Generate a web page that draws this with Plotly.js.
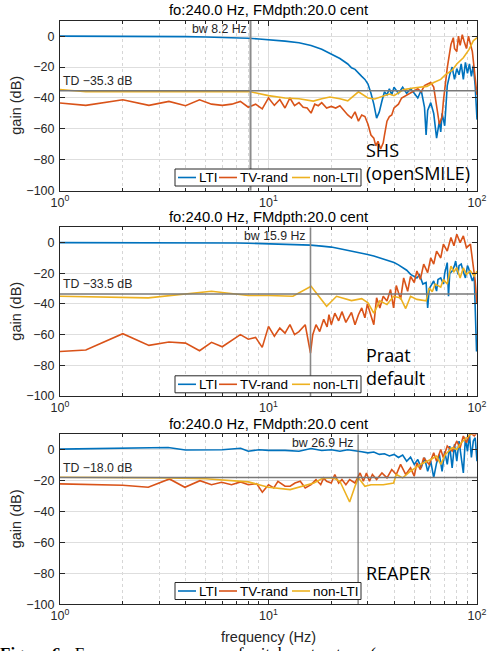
<!DOCTYPE html>
<html><head><meta charset="utf-8">
<script src="https://cdn.plot.ly/plotly-3.0.1.min.js"></script>
<style>html,body{margin:0;padding:0;background:#fff;} #chart{width:488px;height:651px;}</style>
</head><body><div id="chart"></div>
<script>
// ---------- DATA ----------
const seriesNames = ['LTI', 'TV-rand', 'non-LTI'];
const panelNames = ['SHS<br>(openSMILE)', 'Praat<br>default', 'REAPER'];
const panelTitle = 'fo:240.0 Hz, FMdpth:20.0 cent';
const bw_hz = [8.2, 15.9, 26.9];
const td_db = [-35.3, -33.5, -18.0];
const xTickVals = [1, 10, 100];
const xTickText = ['10<sup>0</sup>', '10<sup>1</sup>', '10<sup>2</sup>'];
const xMinorVals = [2,3,4,5,6,7,8,9,20,30,40,50,60,70,80,90];
const yTickVals = [-100, -80, -60, -40, -20, 0];

// Panel 1 (SHS openSMILE)
const p1_lti_f = [1,2,3,4,5,6,7,8,9,10,12,14,16,18,20,22,24,25,26,27,28,29,30,31,32,33,34,35,36,37,38,39,40,42,44,46,48,50,52,54,56,57,58,60,62,64,66,67,68,70,72,74,76,78,80,82,84,86,88,90,92,94,96,98,100];
const p1_lti_g = [0,0,-0.2,-0.3,-0.5,-0.7,-1.0,-1.4,-1.8,-2.2,-3.2,-4.3,-6,-8.5,-11.5,-14.5,-18,-20.5,-21.5,-23.5,-26,-28,-31,-37,-44,-53,-49,-42,-36,-38,-34,-38,-33,-37,-33,-37,-34,-37,-40,-35,-46,-64,-48,-43,-50,-66,-55,-62,-50,-58,-32,-25,-20,-28,-21,-25,-18,-28,-17,-24,-18,-26,-19,-32,-54];
const p1_tv_f = [1,1.33,2,2.67,3.33,4,4.67,5.33,6,6.67,7.33,8,8.67,9.33,10,10.67,11.33,12,12.67,13.33,14,14.67,15.33,16,16.67,17.33,18,19,20,21,22,23,24,25,26,27,28,29,30,31,32,32.7,33.5,34.5,35.5,36,37,38,39,40,42,43.5,46,48,50,52,54,56,58,60,62,64,66,68,69,72,75,77,78,80,81.5,83,85,87,89,91,93,95,98,100];
const p1_tv_g = [-43.3,-44.8,-41.2,-44.8,-42.2,-45,-41.2,-44,-44.8,-44,-42.2,-46,-44,-47,-40,-44.8,-41,-46.5,-40,-45,-43,-46,-46.5,-49.8,-44,-45,-43,-46.5,-45.5,-46.5,-45,-48,-51,-53,-49,-55,-51,-52,-57,-64,-66,-71,-68,-73,-69,-64,-55,-52,-51,-46.5,-44,-40,-38,-37,-35,-34,-36,-32,-31,-30,-33,-45,-57,-52,-42,-20.5,-5.4,-1,-8,-10,0,-6,1,-4,-8,0,-5,-10,-27,-38];
const p1_nl_f = [1,1.33,2,3,4,5,6,7,8.2,10,12,14,16.4,18,19.7,22,24,27,30,32.3,35.5,38,40,44.5,49.5,57.5,62,67,70.5,76,80,86,91.5,96,100];
const p1_nl_g = [-34.5,-36,-36,-36,-36,-36,-36,-36,-36,-38.5,-40,-40.5,-42,-40.5,-39.4,-40.5,-41.8,-36,-40,-40.7,-39,-37.5,-38.5,-34.6,-33.5,-32.5,-30,-28,-25,-22,-18,-14,-8.7,-3,-1];

// Panel 2 (Praat default)
const p2_lti_f = [1,2,3,4,5,6,7,8,10,12,14,15.9,18,20,22,24.5,27,29.5,32,34,37,40,42,44.5,46,48,50,51.5,53,55,57,58,59,60,62,64,65,67,69,70,72,73,74,76,78,79,81,82,84,86,88,90,91,93,95,97,98,99.5,100];
const p2_lti_g = [0,0,-0.1,0,0.2,0,-0.2,-0.4,-0.7,-1,-1.3,-1.6,-2.3,-2.9,-4,-5.5,-6.5,-7.6,-8.7,-9.8,-11.5,-13,-14.5,-16.4,-18,-20.7,-22,-23,-21,-27,-26,-42.6,-30,-28,-25,-31.6,-24,-23,-27,-20,-13,-35,-20,-18.5,-15,-12,-20.7,-15,-14,-19,-23,-15,-16.4,-21,-25,-22,-42,-71,-65];
const p2_tv_f = [1,1.33,2,2.67,3.33,4,4.67,5.33,6,6.67,7.33,8,8.67,9.33,10,10.67,11.33,12,12.67,13.33,14,15,15.9,16.3,16.9,17.6,18.4,19.1,19.5,20,20.8,21.7,22.5,23.5,25,26,27,28,29,29.8,31,32,33,34.2,35.5,37,38.5,39.8,41,43,44.5,46.5,48,50,51.5,53.5,55.5,58,60,62,64,67,69,72,75,77.5,80,83,86,89,93,95,98,100];
const p2_tv_g = [-71,-70,-59.4,-67,-64.8,-65.5,-70.5,-65,-67.9,-64,-60,-63,-61.8,-68.3,-54.6,-61,-55.7,-59,-53.5,-60,-58,-53.5,-72,-60,-53.5,-58,-50,-55,-47,-53.5,-46,-51,-45,-52,-45.5,-53.5,-47,-42.6,-49,-40,-47,-53.5,-36,-42.6,-35,-38,-30.6,-42.6,-28,-37,-23,-31.7,-22,-26,-18.5,-24,-14,-19.6,-10,-14,-5.5,-10,-1,-5.5,3.3,-2,5.5,0,4.4,-3.3,-1,-10,-25,-40];
const p2_nl_f = [1,2.65,5.33,8,10,13.1,16,19,21.2,25,28,30,32,34.2,37,39.8,43,45.5,48,51.5,57,59,61,63,67,69,72,75,77.5,80,83,86,89,93,97,100];
const p2_nl_g = [-35,-36,-31.7,-34.5,-34.5,-35,-28.4,-41.5,-35,-37.8,-36.5,-39.3,-46,-38,-40.4,-35,-36,-43,-35,-37,-38,-29.5,-32,-27,-29,-24,-27,-15.3,-19,-16.4,-23,-16.4,-20.7,-18.5,-21.8,-18.5];

// Panel 3 (REAPER)
const p3_lti_f = [1,2,3.3,4,5,6,7.35,8,9,10,12,14,16,18,20,22,24,26,28,30,32,34,36,38,40,42,44,46,48,50,52,54,56,58,60,62,64,66,68,70,72,74,76,78,80,82,84,86,88,90,92,94,96,98,100];
const p3_lti_g = [0.4,1,1.5,-0.2,0,0,1,-1,0,-0.4,-0.4,-1,0.8,-0.5,0,-1,0,-0.5,-1.3,-2,-1.5,-3,-2.6,-4,-3,-5,-3.5,-7.4,-4.8,-9.5,-6.3,-11.7,-5.2,-14,-7.4,-18,-8.5,-3,-14,-1,-9.5,2.4,-11.7,3.5,-7.4,5.6,-4,-15,7.8,-1,10,-5,5.6,7.8,-7.4];
const p3_tv_f = [1,1.33,2,2.65,3.35,3.97,4.69,5.33,5.96,6.65,7.35,8,8.77,9.34,10,10.6,11.1,12,12.7,13.4,14.2,15,16,16.9,17.8,18.4,19,20,20.8,21.7,22.5,23.5,24.5,26,27.5,28.5,29.5,30.5,31.5,33,35,37,39,41,43,45.5,48,50,51.5,53.5,55.5,59,62,64,67,69,72,76,80,83,86,89,93,97,100];
const p3_tv_g = [-22.1,-22.6,-23,-24.3,-18.9,-24.3,-20,-22.6,-21,-22.6,-20.8,-22.6,-21.9,-27.5,-22.6,-24.7,-20.4,-23.6,-23.6,-21.5,-20.4,-24.7,-22.6,-19.3,-22.6,-18.2,-20.4,-21.5,-16,-21.5,-19.3,-22.6,-19.3,-21.5,-15,-20.4,-15,-20.4,-16,-19.3,-15,-18.2,-12.8,-16,-9.5,-16,-11.7,-17.1,-8.5,-12.8,-5.2,-9.5,-2,-7.4,0.2,-5.2,2.4,-0.9,5.6,1.3,8.9,4.6,11,9,11];
const p3_nl_f = [1,2,3.3,5,6,7,8,9,10,12.7,14.7,16.5,18.4,20.4,22,24.5,26,27,29,31,35.5,39.8,41,44,48,53.5,60,64,67,70.5,76,80,84,89,93,100];
const p3_nl_g = [-17.8,-17.8,-18.2,-18.8,-19.5,-20.4,-20.8,-22.6,-24.3,-25.8,-23.6,-21.5,-18.2,-18.2,-20.4,-33.8,-23.6,-18.2,-23.6,-22.6,-22.6,-21.5,-16,-18.2,-13.9,-9.5,-6.3,-4.1,-9.5,-3,1.3,0.2,4.6,7.8,10,12];

// ---------- BUILD ----------
const W = 488, H = 651;
const FONT = 'Liberation Sans, Arial, sans-serif';
const TXT = '#262626';
const colors = ['#0072BD', '#D95319', '#EDB120'];
const px = v => v / W;
const py = v => 1 - v / H;

const panels = [
  {lti:[p1_lti_f,p1_lti_g], tv:[p1_tv_f,p1_tv_g], nl:[p1_nl_f,p1_nl_g], top:20.7, bot:190.7, legY:177.5, noteY:145},
  {lti:[p2_lti_f,p2_lti_g], tv:[p2_tv_f,p2_tv_g], nl:[p2_nl_f,p2_nl_g], top:227.3, bot:396.0, legY:384.3, noteY:350},
  {lti:[p3_lti_f,p3_lti_g], tv:[p3_tv_f,p3_tv_g], nl:[p3_nl_f,p3_nl_g], top:434.3, bot:604.3, legY:591.0, noteY:568}
];
const plotL = 60, plotR = 477;
const bwWidth = [2, 1.6, 1.1];
const bwColor = ['rgb(140,140,140)', 'rgb(135,135,135)', 'rgb(100,100,100)'];

const traces = [];
const layout = {
  width: W, height: H, margin: {l:0, r:0, t:0, b:0},
  paper_bgcolor: '#fff', plot_bgcolor: '#fff', showlegend: false,
  font: {family: FONT, color: TXT, size: 12},
  annotations: [], shapes: []
};

panels.forEach((p, i) => {
  const n = i === 0 ? '' : String(i + 1);
  const xa = 'x' + n, ya = 'y' + n;
  const series = [p.lti, p.tv, p.nl];
  series.forEach((s, k) => {
    traces.push({x: s[0], y: s[1], xaxis: xa, yaxis: ya, type: 'scatter', mode: 'lines',
      name: seriesNames[k], line: {color: colors[k], width: 1.6}, hoverinfo: 'skip'});
  });
  // TD and bw reference lines
  traces.push({x: [1, 100], y: [td_db[i], td_db[i]], xaxis: xa, yaxis: ya, mode: 'lines',
    line: {color: 'rgb(120,120,120)', width: 1.4}, hoverinfo: 'skip'});
  traces.push({x: [bw_hz[i], bw_hz[i]], y: [-100, 10], xaxis: xa, yaxis: ya, mode: 'lines',
    line: {color: bwColor[i], width: bwWidth[i]}, hoverinfo: 'skip'});

  layout['xaxis' + n] = {
    type: 'log', range: [0, 2], domain: [px(plotL), px(plotR)], anchor: ya,
    tickmode: 'array', tickvals: xTickVals, ticktext: xTickText,
    ticks: 'inside', ticklen: 5, tickcolor: TXT, tickwidth: 1,
    showline: true, linecolor: TXT, linewidth: 1, mirror: 'allticks',
    showgrid: true, gridcolor: '#dedede', gridwidth: 1, zeroline: false,
    tickfont: {size: 12.5, color: TXT, family: FONT},
    minor: {tickmode: 'array', tickvals: xMinorVals, ticks: 'inside', ticklen: 3, tickcolor: TXT,
            showgrid: true, gridcolor: '#d6d6d6', griddash: 'dot', gridwidth: 1}
  };
  layout['yaxis' + n] = {
    range: [-100, 10], domain: [py(p.bot), py(p.top)], anchor: xa,
    tickmode: 'array', tickvals: yTickVals,
    ticks: 'inside', ticklen: 5, tickcolor: TXT, tickwidth: 1,
    showline: true, linecolor: TXT, linewidth: 1, mirror: 'allticks',
    showgrid: true, gridcolor: '#dedede', gridwidth: 1, zeroline: false,
    tickfont: {size: 12.5, color: TXT, family: FONT}, ticklabelstandoff: 2
  };

  // panel title
  layout.annotations.push({text: panelTitle, xref: 'paper', yref: 'paper',
    x: px((plotL + plotR) / 2), y: py(p.top - 10.5), xanchor: 'center', yanchor: 'middle',
    showarrow: false, font: {size: 14.8, color: '#000', family: FONT}});
  // y label
  layout.annotations.push({text: 'gain (dB)', xref: 'paper', yref: 'paper', textangle: -90,
    x: px(16), y: py((p.top + p.bot) / 2), xanchor: 'center', yanchor: 'middle',
    showarrow: false, font: {size: 14.5, color: TXT, family: FONT}});
  // bw label
  layout.annotations.push({text: 'bw ' + bw_hz[i].toFixed(1) + ' Hz', xref: xa, yref: ya,
    x: Math.log10(bw_hz[i]), y: 4.5, xanchor: 'right', yanchor: 'middle', xshift: -2,
    showarrow: false, font: {size: 12.3, color: TXT, family: FONT}});
  // TD label
  layout.annotations.push({text: 'TD \u2212' + Math.abs(td_db[i]).toFixed(1) + ' dB', xref: xa, yref: ya,
    x: 0, y: td_db[i], xanchor: 'left', yanchor: 'bottom', xshift: 1, yshift: 1,
    showarrow: false, font: {size: 12.3, color: TXT, family: FONT}});
  // method note
  layout.annotations.push({text: panelNames[i], xref: 'paper', yref: 'paper',
    x: px(364), y: py(p.noteY - 9), xanchor: 'left', yanchor: 'top', align: 'left',
    showarrow: false, font: {size: 18, color: '#000', family: 'Open Sans, sans-serif'}});

  // legend box (manual, MATLAB style)
  const ly = p.legY;
  layout.shapes.push({type: 'rect', xref: 'paper', yref: 'paper', x0: px(175), x1: px(361),
    y0: py(ly + 8.5), y1: py(ly - 8.5), line: {color: TXT, width: 1}, fillcolor: '#fff', layer: 'above'});
  const segs = [[178, 196], [219, 237], [292, 310]];
  segs.forEach((sg, k) => {
    layout.shapes.push({type: 'line', xref: 'paper', yref: 'paper', x0: px(sg[0]), x1: px(sg[1]),
      y0: py(ly), y1: py(ly), line: {color: colors[k], width: 1.6}, layer: 'above'});
    layout.annotations.push({text: seriesNames[k], xref: 'paper', yref: 'paper',
      x: px(sg[1] + 0.5), y: py(ly), xanchor: 'left', yanchor: 'middle',
      showarrow: false, font: {size: 13.5, color: '#000', family: FONT}});
  });
});

// x label
layout.annotations.push({text: 'frequency (Hz)', xref: 'paper', yref: 'paper',
  x: px((plotL + plotR) / 2), y: py(637), xanchor: 'center', yanchor: 'middle',
  showarrow: false, font: {size: 14.5, color: TXT, family: FONT}});
// caption (cut off at bottom, as in the reference)
layout.annotations.push({text: '<b>Figure 6:</b>  Frequency  responses  of  pitch  extractors  (',
  xref: 'paper', yref: 'paper', x: px(-2), y: py(642), xanchor: 'left', yanchor: 'top',
  showarrow: false, font: {size: 17, color: '#000', family: 'Liberation Serif, serif'}});

Plotly.newPlot('chart', traces, layout, {staticPlot: true, displayModeBar: false});
</script>
</body></html>
